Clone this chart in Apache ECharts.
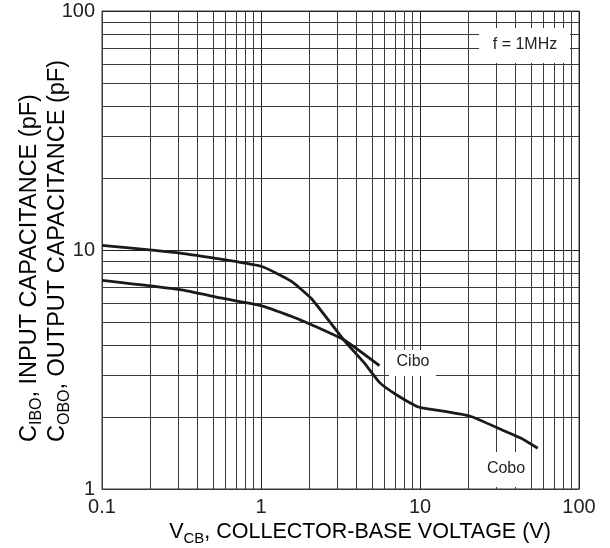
<!DOCTYPE html>
<html>
<head>
<meta charset="utf-8">
<script src="https://cdn.jsdelivr.net/npm/echarts@6/dist/echarts.min.js"></script>
<style>html,body{margin:0;padding:0;background:#fff}#c{width:610px;height:548px}</style>
</head>
<body>
<div id="c"></div>
<script>
// Data
const coboV = [0.1, 0.31, 1.0, 1.55, 2.08, 3.32, 4.46, 5.6, 7.1, 9.5, 10.5, 20.5, 32.6, 43.3, 55];
const coboC = [10.45, 9.7, 8.55, 7.4, 6.25, 4.2, 3.37, 2.78, 2.48, 2.22, 2.18, 2.02, 1.77, 1.63, 1.48];
const ciboV = [0.1, 0.31, 0.56, 1.0, 1.55, 1.8, 2.08, 3.32, 5.56];
const ciboC = [7.46, 6.82, 6.3, 5.85, 5.28, 5.07, 4.87, 4.21, 3.28];
const xTicks = [0.1, 1, 10, 100];
const yTicks = [1, 10, 100];
const xMinor = [0.2,0.3,0.4,0.5,0.6,0.7,0.8,0.9,2,3,4,5,6,7,8,9,20,30,40,50,60,70,80,90];
const yMinor = [2,3,4,5,6,7,8,9,20,30,40,50,60,70,80,90];

const FONT = 'Liberation Sans, Arial, sans-serif';
const GRID = '#3a3a3a';
const chart = echarts.init(document.getElementById('c'), null, {renderer: 'canvas'});
const zip = (a, b) => a.map((v, i) => [v, b[i]]);

const subX = {
  m: {fontSize: 21.5, lineHeight: 28, fontFamily: FONT, color: '#222'},
  s: {fontSize: 15, lineHeight: 15, verticalAlign: 'bottom', fontFamily: FONT, color: '#222'}
};
const subY = {
  m: {fontSize: 23.5, lineHeight: 30, fontFamily: FONT, color: '#222'},
  s: {fontSize: 16, lineHeight: 16, verticalAlign: 'bottom', fontFamily: FONT, color: '#222'}
};

chart.setOption({
  animation: false,
  backgroundColor: '#fff',
  grid: {left: 102, right: 31, top: 11, bottom: 59, show: true, borderColor: GRID, borderWidth: 1},
  xAxis: {
    type: 'log', logBase: 10, min: xTicks[0], max: xTicks[xTicks.length - 1],
    axisLine: {show: true, lineStyle: {color: GRID, width: 1}},
    axisTick: {show: false},
    splitLine: {show: true, lineStyle: {color: '#222', width: 1}},
    axisLabel: {fontSize: 20, fontFamily: FONT, color: '#222', margin: 8,
      formatter: v => String(+(+v).toPrecision(3))}
  },
  yAxis: {
    type: 'log', logBase: 10, min: yTicks[0], max: yTicks[yTicks.length - 1],
    axisLine: {show: true, lineStyle: {color: GRID, width: 1}},
    axisTick: {show: false},
    splitLine: {show: true, lineStyle: {color: '#222', width: 1}},
    axisLabel: {fontSize: 20, fontFamily: FONT, color: '#222', margin: 7,
      formatter: v => String(+(+v).toPrecision(3))}
  },
  series: [
    {
      type: 'line', name: 'grid', data: [], silent: true, z: 1,
      markLine: {
        silent: true, symbol: ['none', 'none'], label: {show: false},
        lineStyle: {color: GRID, width: 1, type: 'solid'},
        emphasis: {disabled: true},
        data: xMinor.map(v => ({xAxis: v})).concat(yMinor.map(v => ({yAxis: v})))
      }
    },
    {
      type: 'line', name: 'Cobo', data: zip(coboV, coboC), showSymbol: false, smooth: 0.15, z: 5,
      lineStyle: {color: '#1a1a1a', width: 2.8}
    },
    {
      type: 'line', name: 'Cibo', data: zip(ciboV, ciboC), showSymbol: false, smooth: 0.15, z: 5,
      lineStyle: {color: '#1a1a1a', width: 2.8}
    }
  ],
  graphic: [
    {type: 'rect', z: 100, shape: {x: 479, y: 28, width: 91, height: 35}, style: {fill: '#fff'}},
    {type: 'text', z: 101, x: 525, y: 45, style: {text: 'f = 1MHz', fontSize: 16, fontFamily: FONT, fill: '#222', align: 'center', verticalAlign: 'middle'}},
    {type: 'rect', z: 100, shape: {x: 389, y: 350, width: 47, height: 26}, style: {fill: '#fff'}},
    {type: 'text', z: 101, x: 413, y: 362, style: {text: 'Cibo', fontSize: 16, fontFamily: FONT, fill: '#222', align: 'center', verticalAlign: 'middle'}},
    {type: 'rect', z: 100, shape: {x: 480, y: 452, width: 50, height: 35}, style: {fill: '#fff'}},
    {type: 'text', z: 101, x: 506, y: 469, style: {text: 'Cobo', fontSize: 16, fontFamily: FONT, fill: '#222', align: 'center', verticalAlign: 'middle'}},
    {type: 'text', z: 101, x: 360, y: 532, style: {
      text: '{m|V}{s|CB}{m|, COLLECTOR-BASE VOLTAGE (V)}', rich: subX, align: 'center', verticalAlign: 'middle'}},
    {type: 'text', z: 101, x: 30, y: 442, rotation: Math.PI / 2, style: {
      text: '{m|C}{s|IBO}{m|, INPUT CAPACITANCE (pF)}', rich: subY, align: 'left', verticalAlign: 'middle'}},
    {type: 'text', z: 101, x: 58, y: 442, rotation: Math.PI / 2, style: {
      text: '{m|C}{s|OBO}{m|, OUTPUT CAPACITANCE (pF)}', rich: subY, align: 'left', verticalAlign: 'middle'}}
  ]
});
</script>
</body>
</html>
